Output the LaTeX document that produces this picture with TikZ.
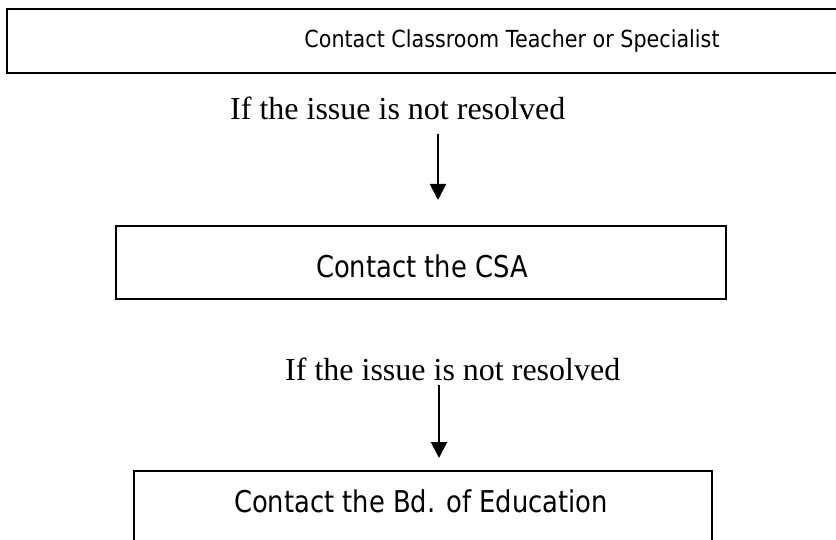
\documentclass[tikz,border=0pt]{standalone}
\usepackage{fontspec}
\setmainfont{Liberation Serif}
\newfontfamily\boxfont{DejaVu Sans}
\usetikzlibrary{arrows.meta}
\tikzset{
  boxnode/.style={draw, line width=2.4pt, inner sep=0pt, rectangle},
  boxtext/.style={inner sep=0pt, anchor=base, font=\boxfont\fontsize{30}{36}\selectfont},
  lbl/.style={inner sep=0pt, anchor=base west, font=\fontsize{32}{38}\selectfont},
  arr/.style={line width=2pt, -{Triangle[width=16pt,length=16pt]}}
}
\begin{document}
\begin{tikzpicture}[x=1pt,y=-1pt]
\useasboundingbox (0,0) rectangle (836,540);
\fill[white] (0,0) rectangle (836,540);
\clip (0,0) rectangle (836,540);
% boxes
\node[boxnode, minimum width=840pt, minimum height=64pt] (b1) at (427,41) {};
\node[boxnode, minimum width=610pt, minimum height=73pt] (b2) at (421,262.5) {};
\node[boxnode, minimum width=578pt, minimum height=80pt] (b3) at (423,511) {};
% box texts
\node[boxtext, font=\boxfont\fontsize{23.5}{28}\selectfont] (t1) at (512,48) {\scalebox{0.88}[1]{Contact Classroom Teacher or Specialist}};
\node[boxtext] (t2) at (422,278) {\scalebox{0.86}[1]{Contact the CSA}};
\node[boxtext] (t3) at (421,512) {\scalebox{0.86}[1]{Contact the Bd. of Education}};
% labels
\node[lbl] (l1) at (230,120) {If the issue is not resolved};
\node[lbl] (l2) at (285,380) {If the issue is not resolved};
% arrows
\coordinate (s1) at (438,134);
\coordinate (e1) at (438,200);
\coordinate (s2) at (439,385);
\coordinate (e2) at (439,458);
\draw[arr] (s1) -- (e1);
\draw[arr] (s2) -- (e2);
\end{tikzpicture}
\end{document}
